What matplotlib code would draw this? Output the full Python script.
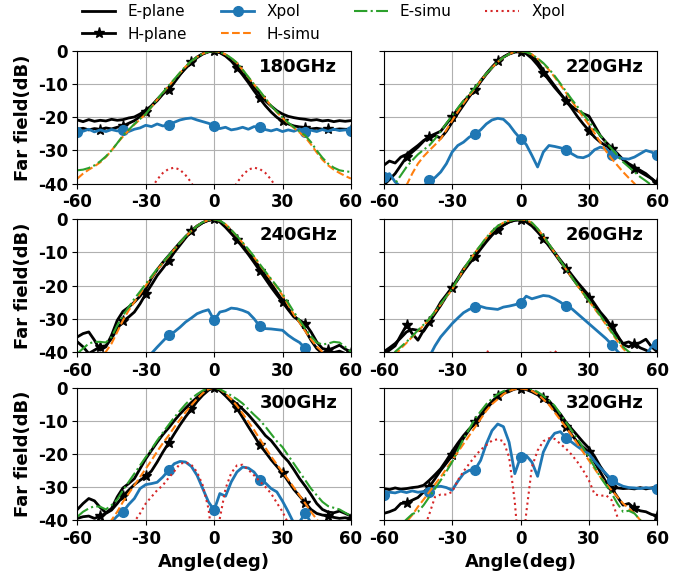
import numpy as np
import matplotlib
matplotlib.use("Agg")
import matplotlib.pyplot as plt

plt.rcParams["axes.unicode_minus"] = False

# angle grid shared by all curves (deg)
angle = np.arange(-60, 60.1, 2.5)
freqs = ["180GHz", "220GHz", "240GHz", "260GHz", "300GHz", "320GHz"]

# ---- 180 GHz ----
e_180 = [-20.8, -21.3, -20.7, -21.2, -20.9, -21.1, -20.6, -20.9,
         -20.7, -20.2, -19.9, -19.0, -17.8, -16.6, -15.0, -13.0,
         -11.0, -9.0, -7.0, -5.2, -3.5, -2.0, -0.9, -0.2,
         0.0, -0.4, -1.2, -2.6, -4.2, -6.2, -8.5, -10.8,
         -13.0, -15.0, -16.6, -18.0, -19.0, -19.7, -20.1, -20.4,
         -20.6, -20.9, -20.7, -21.1, -20.9, -21.3, -21.0, -21.2, -21.0]
h_180 = [-23.6, -23.3, -23.8, -23.4, -23.7, -23.2, -23.5, -23.0,
         -22.6, -21.8, -21.0, -19.8, -18.3, -16.5, -14.6, -12.8,
         -11.8, -9.5, -7.2, -5.0, -3.2, -1.8, -0.8, -0.2,
         0.0, -0.5, -1.5, -3.0, -5.0, -7.2, -9.5, -12.0,
         -14.3, -16.5, -18.4, -20.0, -21.2, -22.0, -22.6, -22.9,
         -23.2, -23.5, -23.3, -23.6, -23.4, -23.7, -23.5, -23.6, -23.8]
xp_180 = [-24.5, -24.2, -23.6, -24.4, -23.8, -24.3, -23.7, -24.1,
          -23.9, -24.3, -23.6, -23.2, -22.4, -22.8, -22.0, -22.6,
          -22.3, -21.5, -20.8, -20.4, -20.2, -20.8, -21.3, -21.8,
          -22.5, -23.4, -23.0, -23.8, -23.5, -23.0, -23.6, -22.8,
          -23.0, -23.7, -24.1, -23.6, -24.3, -23.8, -24.2, -23.5,
          -24.4, -23.9, -24.3, -23.7, -24.2, -23.6, -24.0, -23.8, -24.0]
es_180 = [-36.0, -35.8, -35.3, -34.5, -33.3, -31.8, -30.0, -27.8,
          -25.5, -23.8, -22.0, -20.5, -19.0, -16.8, -14.5, -12.5,
          -10.5, -8.5, -6.5, -4.6, -3.0, -1.8, -0.8, -0.2,
          0.0, -0.3, -1.0, -2.1, -3.5, -5.6, -7.8, -10.0,
          -12.0, -14.3, -16.5, -18.3, -20.0, -21.6, -23.0, -24.3,
          -25.5, -27.5, -30.0, -32.2, -34.0, -35.2, -36.0, -36.3, -36.5]
hs_180 = [-38.5, -37.0, -35.8, -34.8, -33.6, -32.0, -30.0, -27.8,
          -25.8, -24.0, -22.2, -20.6, -19.0, -16.9, -14.7, -12.6,
          -10.6, -8.6, -6.6, -4.7, -3.1, -1.8, -0.8, -0.2,
          0.0, -0.3, -1.0, -2.1, -3.6, -5.7, -7.9, -10.1,
          -12.1, -14.4, -16.6, -18.5, -20.2, -21.8, -23.2, -24.6,
          -26.0, -28.2, -30.6, -32.8, -34.5, -35.8, -36.8, -37.7, -38.5]
xs_180 = [-60, -60, -60, -60, -60, -58, -55, -52,
          -50, -48, -47, -45, -43.5, -41.5, -38.8, -36.8,
          -35.6, -35.2, -35.8, -37.5, -39.7, -43.0, -48.0, -55.0,
          -60.0, -55.0, -48.0, -43.0, -39.7, -37.5, -35.8, -35.2,
          -35.6, -36.8, -38.8, -41.5, -43.5, -45, -47, -48,
          -50, -52, -55, -58, -60, -60, -60, -60, -60]

# ---- 220 GHz ----
e_220 = [-34.5, -33.2, -33.8, -32.0, -31.2, -29.8, -28.5, -27.0,
         -26.0, -25.5, -26.3, -24.2, -21.5, -18.8, -16.3, -13.8,
         -11.5, -9.0, -6.8, -4.8, -3.0, -1.8, -0.8, -0.2,
         0.0, -0.4, -1.2, -3.2, -5.8, -8.2, -10.5, -12.8,
         -15.0, -16.7, -18.0, -18.9, -19.6, -22.5, -25.5, -27.5,
         -29.2, -31.0, -32.8, -34.0, -35.0, -36.0, -37.0, -38.5, -40.0]
h_220 = [-40.5, -38.8, -37.0, -34.5, -32.0, -30.5, -29.0, -27.2,
         -25.8, -25.0, -24.2, -22.0, -19.8, -17.5, -15.2, -13.5,
         -11.8, -9.3, -7.0, -5.0, -3.1, -1.8, -0.9, -0.3,
         -0.2, -0.8, -2.2, -4.2, -6.5, -8.8, -11.0, -13.0,
         -15.0, -17.3, -19.8, -22.0, -24.0, -26.0, -27.5, -28.6,
         -29.5, -31.0, -32.8, -34.3, -35.5, -36.5, -37.5, -38.5, -39.8]
xp_220 = [-38.0, -37.0, -39.5, -41.0, -42.0, -41.5, -42.0, -41.0,
          -39.0, -38.2, -36.5, -34.0, -30.5, -28.5, -27.5, -26.0,
          -25.0, -23.8, -22.0, -20.8, -20.3, -20.6, -22.2, -24.5,
          -26.5, -28.2, -31.5, -35.0, -30.5, -28.5, -28.8, -29.2,
          -29.8, -31.0, -32.0, -32.2, -31.5, -29.8, -29.0, -29.5,
          -31.5, -32.0, -32.5, -32.6, -32.0, -31.0, -30.0, -30.5, -31.5]
es_220 = [-43.0, -41.5, -40.0, -37.5, -35.0, -33.0, -31.2, -29.8,
          -28.5, -26.5, -24.2, -21.8, -19.5, -17.2, -15.0, -13.0,
          -11.0, -8.8, -6.8, -5.0, -3.3, -1.9, -0.9, -0.2,
          0.0, -0.3, -1.0, -2.2, -3.6, -5.4, -7.5, -9.8,
          -12.2, -14.6, -16.8, -19.0, -21.2, -23.5, -25.5, -27.5,
          -29.5, -31.5, -33.5, -35.0, -36.5, -38.0, -39.2, -40.5, -41.5]
hs_220 = [-52, -49, -46, -44, -40.5, -37.0, -34.0, -31.8,
          -30.0, -28.3, -26.5, -23.8, -21.0, -18.3, -15.8, -13.5,
          -11.3, -9.0, -6.9, -5.0, -3.3, -1.9, -0.9, -0.2,
          0.0, -0.3, -1.0, -2.3, -3.8, -5.7, -7.9, -10.2,
          -12.6, -15.1, -17.6, -19.9, -22.2, -24.8, -27.5, -30.2,
          -32.5, -34.5, -36.5, -38.3, -40.0, -43, -47, -52, -60]
xs_220 = [-60, -60, -60, -60, -60, -60, -60, -60,
          -60, -58, -56, -54, -52, -50, -48.5, -47.5,
          -46.8, -46.5, -47, -48, -50, -53, -57, -60,
          -60, -60, -57, -53, -50, -48, -47, -46.5,
          -46.8, -47.5, -48.5, -50, -52, -54, -56, -58,
          -60, -60, -60, -60, -60, -60, -60, -60, -60]

# ---- 240 GHz ----
e_240 = [-35.5, -34.5, -34.0, -36.5, -39.5, -38.5, -35.0, -30.5,
         -27.8, -26.5, -25.0, -23.2, -21.0, -17.8, -15.2, -13.0,
         -11.0, -9.0, -7.0, -5.2, -3.5, -2.0, -1.0, -0.3,
         0.0, -0.5, -1.8, -3.5, -5.6, -7.8, -10.0, -12.2,
         -14.5, -17.0, -19.5, -22.0, -24.5, -27.0, -29.0, -31.0,
         -33.5, -36.5, -39.0, -40.5, -39.5, -38.8, -38.0, -39.2, -40.0]
h_240 = [-37.0, -38.5, -40.5, -39.5, -38.5, -38.2, -36.0, -33.0,
         -30.8, -29.5, -28.0, -25.5, -22.5, -19.8, -17.0, -14.8,
         -12.5, -10.0, -7.8, -5.6, -3.6, -2.2, -1.0, -0.3,
         0.0, -0.8, -2.4, -4.3, -6.2, -8.4, -10.6, -13.0,
         -15.5, -18.0, -20.5, -22.8, -25.0, -27.3, -29.5, -30.5,
         -31.5, -34.0, -37.0, -39.0, -39.5, -40.2, -39.8, -40.5, -40.5]
xp_240 = [-48, -48, -47, -47, -46, -46, -45, -45,
          -44, -44, -43, -42.5, -41.5, -40.5, -38.6, -36.8,
          -35.0, -34.0, -32.6, -31.0, -29.8, -28.5, -27.8, -27.3,
          -30.5, -28.0, -27.6, -26.8, -27.0, -27.5, -28.2, -30.0,
          -32.3, -33.0, -33.1, -33.3, -33.5, -35.0, -36.2, -37.2,
          -39.0, -41.5, -44, -46, -47, -48, -48, -48, -48]
es_240 = [-40.5, -39.0, -37.5, -37.0, -37.0, -37.2, -35.5, -32.0,
          -29.0, -26.5, -24.0, -21.8, -19.5, -17.2, -15.0, -13.0,
          -11.0, -9.0, -7.0, -5.1, -3.4, -2.0, -0.9, -0.2,
          0.0, -0.4, -1.5, -3.2, -5.0, -7.0, -9.0, -11.2,
          -13.5, -15.8, -18.0, -20.2, -22.5, -25.2, -28.0, -30.5,
          -33.0, -35.3, -37.2, -37.8, -37.5, -37.0, -37.2, -38.5, -40.0]
hs_240 = [-46, -45, -44, -43, -41.5, -40.0, -37.5, -34.0,
          -30.5, -27.5, -25.0, -22.5, -20.0, -17.6, -15.3, -13.2,
          -11.2, -9.1, -7.1, -5.2, -3.5, -2.0, -0.9, -0.2,
          0.0, -0.4, -1.5, -3.2, -5.1, -7.1, -9.2, -11.4,
          -13.7, -16.0, -18.2, -20.5, -23.0, -25.8, -28.8, -31.2,
          -33.8, -36.2, -38.4, -40.0, -41.0, -42, -43, -44, -45]
xs_240 = [-60, -60, -60, -60, -60, -60, -59, -57,
          -55, -53, -51, -49.5, -48, -46.5, -45, -43.8,
          -42.8, -42.2, -42.4, -43.5, -45.5, -48.5, -53, -58,
          -60, -58, -53, -48.5, -45.5, -43.5, -42.4, -42.2,
          -42.8, -43.8, -45, -46.5, -48, -49.5, -51, -53,
          -55, -57, -59, -60, -60, -60, -60, -60, -60]

# ---- 260 GHz ----
e_260 = [-40.0, -38.8, -37.5, -35.8, -34.0, -33.2, -33.5, -33.8,
         -31.2, -28.0, -25.0, -22.8, -20.5, -17.8, -15.0, -12.8,
         -10.5, -8.3, -6.3, -4.5, -3.0, -1.7, -0.8, -0.2,
         0.0, -0.5, -1.6, -3.3, -5.4, -7.7, -10.0, -12.3,
         -14.5, -16.8, -19.0, -21.0, -23.0, -25.5, -28.0, -30.0,
         -32.5, -35.5, -37.5, -37.0, -38.0, -37.2, -36.2, -38.5, -40.0]
h_260 = [-41.0, -39.5, -38.2, -35.0, -32.0, -34.5, -36.5, -33.5,
         -31.0, -28.5, -26.0, -23.2, -20.8, -18.2, -15.7, -13.4,
         -11.3, -9.0, -6.8, -4.8, -3.1, -1.8, -0.8, -0.3,
         -0.2, -0.8, -2.0, -3.8, -5.8, -8.1, -10.4, -12.8,
         -15.0, -17.5, -19.8, -21.8, -23.8, -26.2, -28.6, -30.5,
         -32.2, -35.0, -37.8, -38.5, -37.5, -38.8, -39.5, -40.5, -41.0]
xp_260 = [-46, -46, -45.5, -45, -45, -44.5, -44, -43,
          -41.5, -38.2, -35.5, -33.5, -31.5, -29.8, -28.2, -27.2,
          -26.5, -26.3, -26.8, -27.0, -27.2, -26.5, -26.2, -25.8,
          -25.3, -23.2, -24.0, -23.5, -23.0, -23.2, -24.0, -25.0,
          -26.3, -27.0, -28.5, -30.0, -31.5, -33.0, -34.5, -36.0,
          -37.8, -39.8, -41.5, -42.0, -42.0, -41.5, -41.0, -38.5, -37.5]
es_260 = [-46, -43, -40.0, -38.5, -37.0, -35.3, -33.5, -31.8,
          -30.0, -27.8, -25.5, -23.2, -21.0, -18.0, -15.0, -12.5,
          -10.0, -7.8, -5.5, -3.6, -2.0, -1.0, -0.4, -0.1,
          0.0, -0.2, -1.0, -2.8, -5.0, -7.5, -10.0, -12.5,
          -15.0, -17.5, -20.0, -22.3, -24.5, -26.8, -29.0, -31.5,
          -34.0, -36.3, -38.5, -40.0, -41.0, -42.5, -44, -45.5, -47]
hs_260 = [-47, -44, -41.0, -39.0, -37.3, -35.5, -33.8, -32.0,
          -30.2, -28.0, -25.7, -23.4, -21.2, -18.2, -15.2, -12.6,
          -10.1, -7.9, -5.6, -3.7, -2.1, -1.0, -0.4, -0.1,
          0.0, -0.2, -1.1, -2.9, -5.1, -7.6, -10.1, -12.6,
          -15.1, -17.6, -20.1, -22.4, -24.7, -27.0, -29.3, -31.8,
          -34.3, -36.8, -39.0, -40.8, -42.0, -43.5, -45, -46.5, -48]
xs_260 = [-60, -60, -60, -60, -58, -57, -55, -54,
          -52, -51, -50, -49, -48, -46.5, -45, -43.5,
          -42.2, -41.0, -39.8, -40.4, -42.5, -45.5, -50, -55,
          -60, -55, -50, -45.5, -42.5, -40.4, -39.8, -41.0,
          -42.2, -43.5, -45, -46.5, -48, -49, -50, -51,
          -52, -54, -55, -57, -58, -60, -60, -60, -60]

# ---- 300 GHz ----
e_300 = [-36.8, -35.0, -33.5, -34.2, -36.2, -37.8, -36.5, -33.0,
         -30.3, -29.0, -27.5, -24.5, -21.5, -19.0, -16.5, -14.2,
         -12.2, -10.0, -8.0, -6.2, -4.5, -3.0, -1.5, -0.4,
         0.0, -0.8, -2.2, -3.6, -5.0, -6.5, -8.2, -10.2,
         -12.3, -14.5, -16.0, -18.2, -20.5, -22.3, -24.8, -27.5,
         -29.8, -32.3, -35.0, -36.8, -37.6, -37.8, -37.3, -38.0, -38.8]
h_300 = [-39.5, -39.0, -38.8, -39.5, -38.8, -38.0, -37.0, -35.0,
         -32.8, -31.0, -29.3, -28.0, -26.8, -25.2, -22.5, -19.5,
         -16.8, -14.0, -11.3, -8.8, -6.5, -4.2, -2.3, -0.8,
         0.0, -0.9, -2.5, -4.3, -6.3, -9.0, -11.8, -14.5,
         -17.3, -19.5, -21.8, -23.8, -25.8, -28.3, -30.8, -32.8,
         -34.8, -36.8, -38.0, -38.5, -38.8, -39.2, -39.5, -39.3, -39.8]
xp_300 = [-45, -45, -45, -44.5, -44, -42.5, -40.5, -38.8,
          -37.5, -35.3, -33.5, -30.5, -29.3, -29.0, -28.6, -27.0,
          -25.0, -23.0, -22.3, -22.5, -23.8, -26.5, -30.5, -34.5,
          -37.0, -32.0, -32.8, -28.5, -25.5, -24.0, -24.3, -25.5,
          -27.8, -28.8, -30.5, -31.5, -34.3, -37.5, -41.0, -40.5,
          -38.0, -40.8, -43.5, -44.5, -45, -45, -45, -45, -45]
es_300 = [-39.0, -37.5, -36.5, -35.8, -36.0, -36.8, -35.5, -33.8,
          -31.0, -28.5, -26.0, -23.5, -21.0, -18.6, -16.0, -13.6,
          -11.3, -9.0, -7.0, -5.0, -3.3, -2.0, -0.9, -0.2,
          0.0, -0.5, -1.4, -2.4, -3.5, -4.8, -6.5, -8.2,
          -9.8, -11.8, -14.0, -16.2, -18.0, -20.5, -23.0, -25.5,
          -28.0, -30.5, -32.5, -34.5, -35.8, -36.3, -36.8, -37.8, -38.8]
hs_300 = [-50, -48, -47, -45.5, -44, -42, -40.0, -37.5,
          -34.5, -32.0, -29.5, -27.0, -24.5, -22.0, -19.3, -16.8,
          -14.5, -12.0, -9.7, -7.4, -5.3, -3.4, -1.7, -0.5,
          0.0, -0.5, -1.8, -3.5, -5.5, -7.8, -10.3, -12.8,
          -15.5, -18.2, -20.8, -23.2, -25.5, -27.8, -30.2, -32.6,
          -35.0, -37.5, -39.8, -42, -44, -45.5, -47, -48, -50]
xs_300 = [-60, -60, -58, -56, -55, -53, -51, -48,
          -45.5, -43, -40.5, -38.0, -35.0, -33.0, -31.0, -29.5,
          -27.3, -25.3, -23.0, -22.6, -23.3, -25.5, -29.5, -36.5,
          -50.0, -39.5, -30.5, -25.8, -23.5, -23.3, -24.8, -26.5,
          -28.3, -30.0, -32.0, -34.8, -37.5, -41.0, -44.0, -47.0,
          -50, -52, -54, -56, -58, -60, -60, -60, -60]

# ---- 320 GHz ----
e_320 = [-30.5, -30.8, -30.3, -30.7, -30.5, -30.2, -30.0, -29.5,
         -28.0, -26.3, -24.5, -22.0, -19.3, -16.8, -14.5, -12.5,
         -11.0, -8.8, -6.5, -4.5, -2.8, -1.8, -1.2, -0.4,
         0.0, -0.4, -1.1, -1.7, -2.8, -4.0, -6.0, -8.0,
         -10.5, -12.5, -14.5, -16.5, -18.3, -20.8, -23.8, -26.3,
         -28.5, -30.3, -30.5, -30.4, -30.6, -30.2, -30.6, -30.3, -30.0]
h_320 = [-38.0, -37.5, -36.8, -35.0, -34.8, -34.0, -33.2, -31.5,
         -30.0, -27.5, -25.0, -22.8, -20.5, -18.0, -15.3, -12.8,
         -10.5, -8.3, -6.0, -4.2, -2.5, -1.5, -0.8, -0.4,
         -0.3, -0.6, -1.3, -2.2, -3.3, -4.8, -6.8, -9.2,
         -11.8, -14.3, -16.5, -18.0, -19.5, -22.5, -25.5, -28.5,
         -30.5, -33.0, -35.5, -35.0, -36.5, -37.2, -37.5, -38.3, -38.8]
xp_320 = [-32.3, -31.6, -31.8, -31.3, -31.7, -31.2, -31.6, -31.4,
          -31.5, -30.0, -29.8, -30.2, -31.0, -28.3, -26.0, -25.0,
          -24.8, -22.0, -17.0, -13.0, -11.0, -11.8, -16.5, -26.0,
          -21.0, -20.5, -22.5, -26.8, -19.5, -16.0, -13.8, -13.3,
          -15.3, -16.5, -17.8, -19.0, -20.0, -22.2, -24.2, -26.0,
          -27.8, -29.0, -29.8, -30.2, -30.3, -30.5, -30.2, -30.4, -30.5]
es_320 = [-52, -48, -44, -41.5, -39.8, -38.2, -37.5, -35.5,
          -33.0, -30.5, -28.0, -25.3, -22.5, -19.0, -15.5, -12.5,
          -9.5, -7.2, -5.0, -3.3, -2.0, -1.1, -0.5, -0.1,
          0.0, -0.1, -0.5, -1.3, -2.5, -3.8, -5.5, -8.0,
          -10.5, -13.0, -15.5, -18.2, -21.0, -24.0, -27.0, -29.5,
          -32.0, -35.0, -37.5, -37.2, -38.0, -40.0, -42, -44, -46]
hs_320 = [-55, -50, -46, -43, -40.5, -38.5, -36.0, -33.8,
          -31.5, -29.2, -27.0, -24.5, -22.0, -19.5, -17.0, -14.5,
          -12.0, -9.5, -7.0, -5.0, -3.5, -2.0, -1.0, -0.5,
          -0.3, -0.5, -1.0, -2.0, -3.5, -5.2, -7.5, -9.8,
          -12.0, -14.5, -17.0, -19.5, -22.0, -24.5, -27.0, -29.0,
          -31.0, -33.0, -35.0, -36.5, -38.0, -40.0, -42, -44, -46]
xs_320 = [-60, -58, -56, -54, -52, -50, -47, -43,
          -38.2, -33.0, -32.3, -32.3, -31.5, -28.0, -25.3, -23.0,
          -20.8, -18.8, -17.4, -16.0, -15.6, -16.2, -21.0, -34.5,
          -55.0, -38.0, -24.0, -19.0, -16.2, -15.3, -15.5, -17.0,
          -18.5, -20.3, -22.5, -25.0, -28.0, -32.2, -32.7, -32.5,
          -34.0, -39.0, -44.0, -48, -51, -54, -57, -60, -60]

panels = [
    (e_180, h_180, xp_180, es_180, hs_180, xs_180),
    (e_220, h_220, xp_220, es_220, hs_220, xs_220),
    (e_240, h_240, xp_240, es_240, hs_240, xs_240),
    (e_260, h_260, xp_260, es_260, hs_260, xs_260),
    (e_300, h_300, xp_300, es_300, hs_300, xs_300),
    (e_320, h_320, xp_320, es_320, hs_320, xs_320),
]

fig, axes = plt.subplots(3, 2, figsize=(6.97, 5.74), dpi=100, sharey=True)
fig.subplots_adjust(left=0.111, right=0.943, top=0.911, bottom=0.094,
                    hspace=0.27, wspace=0.12)

for ax, label, (e, h, xp, es, hs, xs) in zip(axes.flat, freqs, panels):
    ax.plot(angle, e, color="black", lw=2, label="E-plane")
    ax.plot(angle, h, color="black", lw=2, marker="*", ms=8,
            markevery=slice(4, None, 4), label="H-plane")
    ax.plot(angle, xp, color="tab:blue", lw=2, marker="o", ms=7,
            markevery=8, label="Xpol")
    ax.plot(angle, hs, color="tab:orange", ls="--", lw=1.5, label="H-simu")
    ax.plot(angle, es, color="tab:green", ls="-.", lw=1.5, label="E-simu")
    ax.plot(angle, xs, color="tab:red", ls=":", lw=1.5, label="Xpol")
    ax.set_xlim(-60, 60)
    ax.set_ylim(-40, 0)
    ax.set_xticks([-60, -30, 0, 30, 60])
    ax.set_yticks([0, -10, -20, -30, -40])
    ax.grid(True)
    ax.tick_params(labelsize=12)
    for t in ax.get_xticklabels() + ax.get_yticklabels():
        t.set_fontweight("bold")
    ax.text(0.95, 0.95, label, transform=ax.transAxes, ha="right", va="top",
            fontsize=13, fontweight="bold")

for ax in axes[:, 0]:
    ax.set_ylabel("Far field(dB)", fontsize=13, fontweight="bold")
for ax in axes[2]:
    ax.set_xlabel("Angle(deg)", fontsize=13, fontweight="bold")

handles, labels = axes[0, 0].get_legend_handles_labels()
fig.legend(handles, labels, loc="upper center", ncol=4, frameon=False,
           bbox_to_anchor=(0.464, 1.006), fontsize=11, columnspacing=2.2,
           handlelength=2.2, borderaxespad=0.1, labelspacing=0.5)

fig.savefig("out.png", dpi=100)
